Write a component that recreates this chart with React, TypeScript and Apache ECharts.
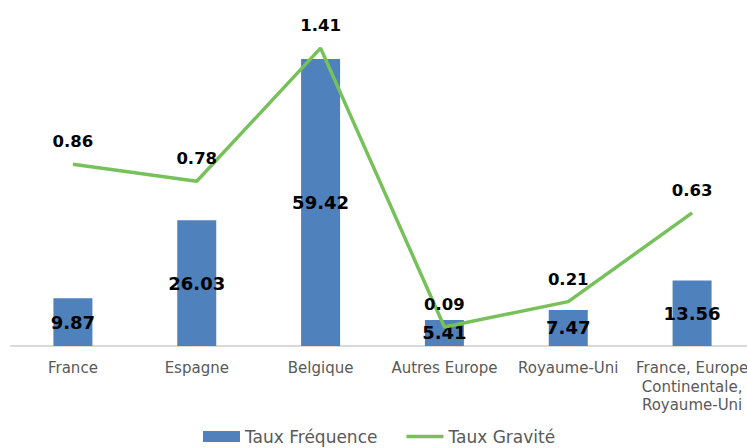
import React, { useEffect, useRef } from "react";
import * as echarts from "echarts";

const categories = [
  "France",
  "Espagne",
  "Belgique",
  "Autres Europe",
  "Royaume-Uni",
  "France, Europe\nContinentale,\nRoyaume-Uni",
];
const frequence = [9.87, 26.03, 59.42, 5.41, 7.47, 13.56];
const gravite = [0.86, 0.78, 1.41, 0.09, 0.21, 0.63];

const FONT = "'DejaVu Sans', sans-serif";

export default function App() {
  const ref = useRef<HTMLDivElement>(null);
  useEffect(() => {
    document.body.style.margin = "0";
    document.body.style.overflow = "hidden";
    const chart = echarts.init(ref.current!, null, { renderer: "svg" });
    chart.setOption({
      animation: false,
      backgroundColor: "#ffffff",
      textStyle: { fontFamily: FONT },
      grid: { left: 11, width: 743, top: 8, bottom: 102, outerBoundsMode: "none", containLabel: false },
      legend: {
        bottom: -2,
        left: 198,
        itemGap: 29,
        itemWidth: 37,
        itemHeight: 11,
        textStyle: { fontSize: 17, color: "#595959", fontFamily: FONT },
        data: [
          { name: "Taux Fréquence", icon: "rect" },
          { name: "Taux Gravité", icon: "path://M0,0 L37,0 L37,3.5 L0,3.5 Z" },
        ],
      },
      xAxis: {
        type: "category",
        data: categories,
        axisTick: { show: false },
        axisLine: { lineStyle: { color: "#d9d9d9", width: 2 } },
        axisLabel: {
          color: "#595959",
          fontSize: 15,
          lineHeight: 18.5,
          margin: 13,
          interval: 0,
          fontFamily: FONT,
        },
      },
      yAxis: [
        { type: "value", min: 0, max: 70, show: false, splitLine: { show: false } },
        { type: "value", min: 0, max: 1.6, show: false, splitLine: { show: false } },
      ],
      series: [
        {
          name: "Taux Fréquence",
          type: "bar",
          data: frequence,
          barWidth: 39,
          itemStyle: { color: "#4f81bd" },
          label: {
            show: true,
            position: "inside",
            color: "#000",
            fontWeight: "bold",
            fontSize: 18,
            fontFamily: FONT,
            formatter: (p: any) => p.value.toFixed(2),
          },
        },
        {
          name: "Taux Gravité",
          type: "line",
          yAxisIndex: 1,
          data: gravite,
          symbol: "circle",
          symbolSize: 0.01,
          showSymbol: true,
          lineStyle: { color: "#77c15a", width: 3.5 },
          itemStyle: { color: "#77c15a" },
          label: {
            show: true,
            position: "top",
            distance: 14,
            color: "#000",
            fontWeight: "bold",
            fontSize: 16.5,
            fontFamily: FONT,
            formatter: (p: any) => p.value.toFixed(2),
          },
        },
      ],
    });
    return () => chart.dispose();
  }, []);
  return <div ref={ref} style={{ width: 747, height: 448 }} />;
}
